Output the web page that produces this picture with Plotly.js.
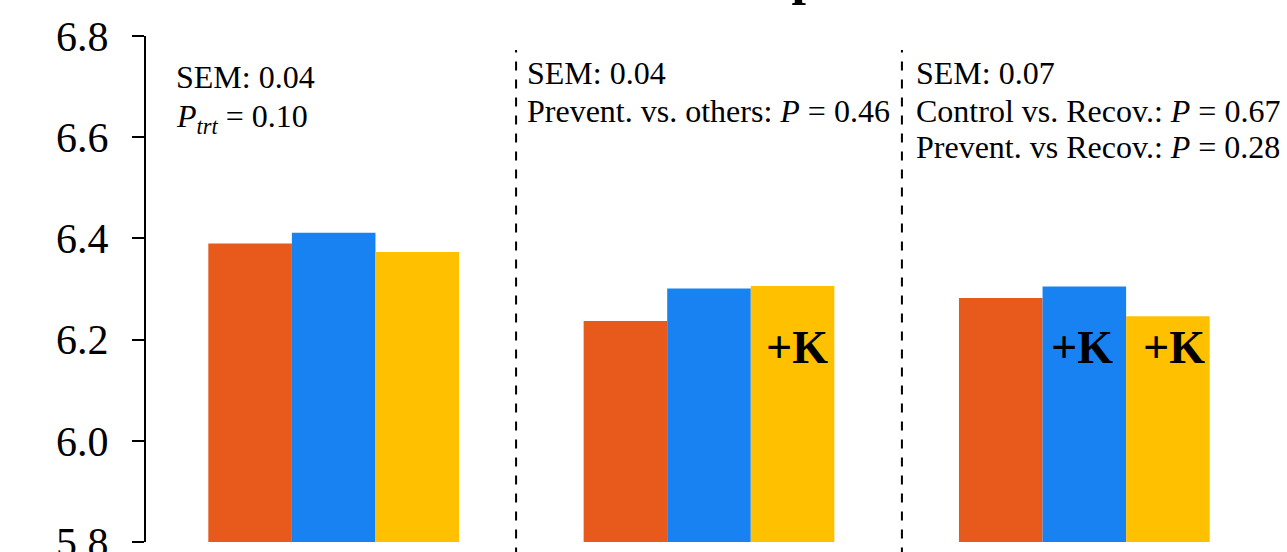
<!DOCTYPE html>
<html>
<head>
<meta charset="utf-8">
<script src="https://cdn.plot.ly/plotly-3.0.1.min.js"></script>
<style>html,body{margin:0;padding:0;background:#fff;}#chart{width:1287px;height:552px;}</style>
</head>
<body>
<div id="chart"></div>
<script>
// ---- data ----
const periods = ["Period 1", "Period 2", "Period 3"];
const seriesNames = ["Control", "Recovery", "Prevention"];
const controlVals = [6.390, 6.237, 6.282];
const recoveryVals = [6.411, 6.301, 6.305];
const preventionVals = [6.373, 6.306, 6.246];
const seriesColors = ["#E8591C", "#1882F2", "#FFC000"];
const yTickVals = [5.8, 6.0, 6.2, 6.4, 6.6, 6.8];
const yTickText = ["5.8", "6.0", "6.2", "6.4", "6.6", "6.8"];
// +K markers: [period index, series index]
const kMarks = [[1, 2], [2, 1], [2, 2]];
const kShift = [4, -2, 6];
const statTexts = [
  ["SEM: 0.04", "<i>P</i><sub><i>trt</i></sub> = 0.10"],
  ["SEM: 0.04", "Prevent. vs. others: <i>P</i> = 0.46"],
  ["SEM: 0.07", "Control vs. Recov.: <i>P</i> = 0.67", "Prevent. vs Recov.: <i>P</i> = 0.28"]
];
const titleText = "Ruminal pH";

// ---- layout geometry ----
const W = 1287, H = 552;
const M = {l: 146, r: 15, t: 36, b: 10};
const plotW = W - M.l - M.r, plotH = H - M.t - M.b;
const px = x => (x - M.l) / plotW;
const py = y => (H - M.b - y) / plotH;
const bargap = 0.332;
const barW = (1 - bargap) / 3;

const serif = "'Liberation Serif', 'Times New Roman', serif";
const allVals = [controlVals, recoveryVals, preventionVals];
const traces = allVals.map((v, i) => ({
  type: "bar", x: periods, y: v, name: seriesNames[i],
  marker: {color: seriesColors[i], line: {width: 0}},
  hoverinfo: "none", showlegend: false
}));

const annotations = [];
const textLeft = [174, 525, 914];
const textBaselines = [[87, 125], [82.5, 120], [82.5, 120, 157]];
statTexts.forEach((lines, g) => {
  lines.forEach((t, k) => {
    annotations.push({
      xref: "paper", yref: "paper", x: px(textLeft[g]), y: py(textBaselines[g][k] - 29.5),
      xanchor: "left", yanchor: "top", text: t, showarrow: false,
      font: {family: serif, size: 32, color: "#000"}
    });
  });
});
kMarks.forEach(([p, s], i) => {
  annotations.push({
    xref: "x", yref: "paper", x: p + (s - 1) * barW, xshift: kShift[i], y: py(347),
    xanchor: "center", yanchor: "middle", text: "<b>+K</b>", showarrow: false,
    font: {family: serif, size: 46, color: "#000"}
  });
});
annotations.push({
  xref: "paper", yref: "paper", x: px(863), y: py(7), xanchor: "right", yanchor: "bottom",
  text: "<b>" + titleText + "</b>", showarrow: false,
  font: {family: serif, size: 52, color: "#000"}
});

const separators = [0.486, 1.514];
const shapes = separators.map(x => ({
  type: "line", xref: "x", yref: "paper", x0: x, x1: x, y0: -0.1, y1: py(50),
  line: {color: "#000", width: 2, dash: "9px,9px"}
}));

const layout = {
  width: W, height: H, margin: M,
  paper_bgcolor: "#fff", plot_bgcolor: "#fff",
  barmode: "group", bargap: bargap, bargroupgap: 0,
  xaxis: {type: "category", range: [-0.5, 2.5], showticklabels: false, ticks: "",
          showline: false, showgrid: false, zeroline: false, fixedrange: true},
  yaxis: {range: [5.8, 6.8], tickvals: yTickVals, ticktext: yTickText, ticks: "outside",
          ticklen: 12, tickwidth: 2, tickcolor: "#000", showline: true, linewidth: 2,
          linecolor: "#000", showgrid: false, zeroline: false, ticklabelstandoff: 15,
          ticklabeloverflow: "allow",
          tickfont: {family: serif, size: 42, color: "#000"}, fixedrange: true},
  annotations: annotations, shapes: shapes, hovermode: false
};
Plotly.newPlot("chart", traces, layout, {displayModeBar: false, staticPlot: true});
</script>
</body>
</html>
